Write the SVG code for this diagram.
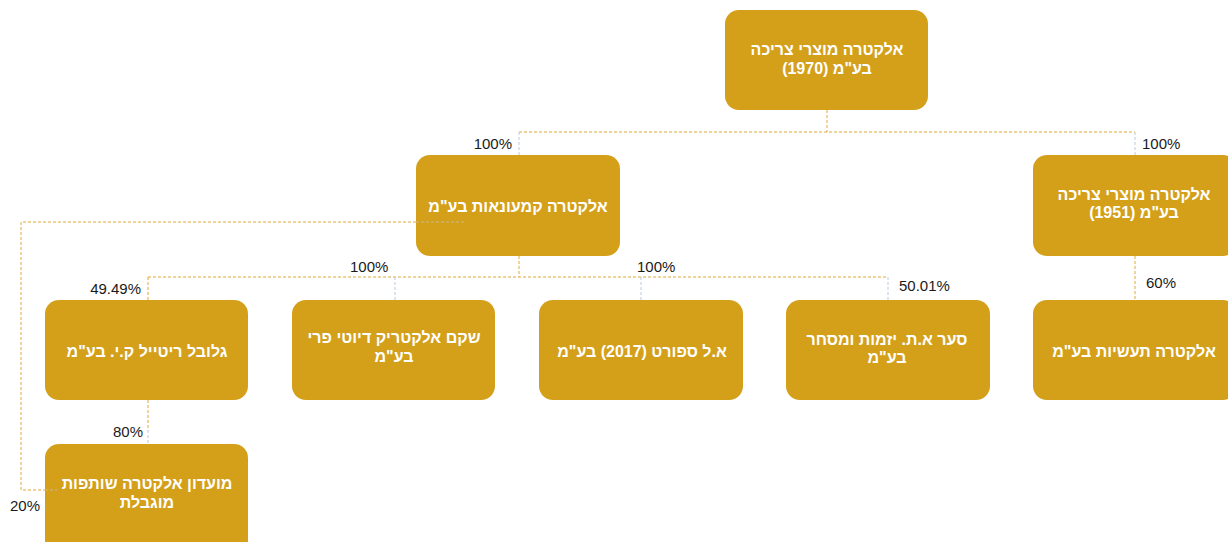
<svg xmlns="http://www.w3.org/2000/svg" width="1228" height="542" viewBox="0 0 1228 542">
<style>
.box{fill:#D4A01A;}
.t{font-family:"Liberation Sans","DejaVu Sans",sans-serif;font-size:16px;font-weight:bold;fill:#ffffff;text-anchor:middle;}
.p{font-family:"Liberation Sans","DejaVu Sans",sans-serif;font-size:15px;fill:#1a1a1a;}
.g{fill:none;stroke:#E2A838;stroke-width:1;stroke-dasharray:3 2;}
.b{fill:none;stroke:#B9C9DC;stroke-width:1;stroke-dasharray:3 2;}
.i{fill:none;stroke:#C9B88E;stroke-width:1;stroke-dasharray:3 2;}
</style>
<rect width="1228" height="542" fill="#ffffff"/>
<g id="nodes">
<g id="n-top"><rect class="box" x="725" y="10" width="203" height="100" rx="14"/><text class="t" x="827" y="55">אלקטרה מוצרי צריכה</text><text class="t" x="827" y="74" direction="rtl">בע"מ (1970)</text></g>
<g id="n-retail"><rect class="box" x="416" y="155" width="204" height="101" rx="14"/><text class="t" x="518" y="212">אלקטרה קמעונאות בע"מ</text></g>
<g id="n-1951"><rect class="box" x="1033" y="155" width="204" height="101" rx="14"/><text class="t" x="1134" y="200">אלקטרה מוצרי צריכה</text><text class="t" x="1134" y="218" direction="rtl">בע"מ (1951)</text></g>
<g id="n-global"><rect class="box" x="45" y="300" width="203" height="100" rx="14"/><text class="t" x="147" y="357">גלובל ריטייל ק.י. בע"מ</text></g>
<g id="n-shekem"><rect class="box" x="292" y="300" width="203" height="100" rx="14"/><text class="t" x="394" y="343">שקם אלקטריק דיוטי פרי</text><text class="t" x="394" y="362">בע"מ</text></g>
<g id="n-sport"><rect class="box" x="539" y="300" width="204" height="100" rx="14"/><text class="t" x="642" y="357">א.ל ספורט (2017) בע"מ</text></g>
<g id="n-saar"><rect class="box" x="786" y="300" width="204" height="100" rx="14"/><text class="t" x="887" y="345">סער א.ת. יזמות ומסחר</text><text class="t" x="887" y="363">בע"מ</text></g>
<g id="n-industries"><rect class="box" x="1033" y="300" width="204" height="100" rx="14"/><text class="t" x="1134" y="357">אלקטרה תעשיות בע"מ</text></g>
<g id="n-club"><rect class="box" x="45" y="444" width="203" height="110" rx="14"/><text class="t" x="147" y="489">מועדון אלקטרה שותפות</text><text class="t" x="147" y="508">מוגבלת</text></g>
</g>
<g id="connectors">
<path class="g" d="M827 110V132M519 132H1135"/>
<path class="b" d="M519 132V155M1135 132V155"/>
<path class="g" d="M519 256V277M148 277H888M148 277V300"/>
<path class="b" d="M395 277V300M641 277V300M888 277V300"/>
<path class="g" d="M1135 256V300"/>
<path class="g" d="M148 400V430"/>
<path class="b" d="M148 430V444"/>
<path class="g" d="M416 222H21V490H45"/>
<path class="i" d="M416 222H466M45 490H57"/>
</g>
<g id="labels">
<text class="p" x="512" y="149" text-anchor="end">100%</text>
<text class="p" x="1142" y="149">100%</text>
<text class="p" x="1146" y="288">60%</text>
<text class="p" x="350" y="272">100%</text>
<text class="p" x="637" y="272">100%</text>
<text class="p" x="899" y="291">50.01%</text>
<text class="p" x="141" y="294" text-anchor="end">49.49%</text>
<text class="p" x="143" y="437" text-anchor="end">80%</text>
<text class="p" x="10" y="511">20%</text>
</g>
</svg>
